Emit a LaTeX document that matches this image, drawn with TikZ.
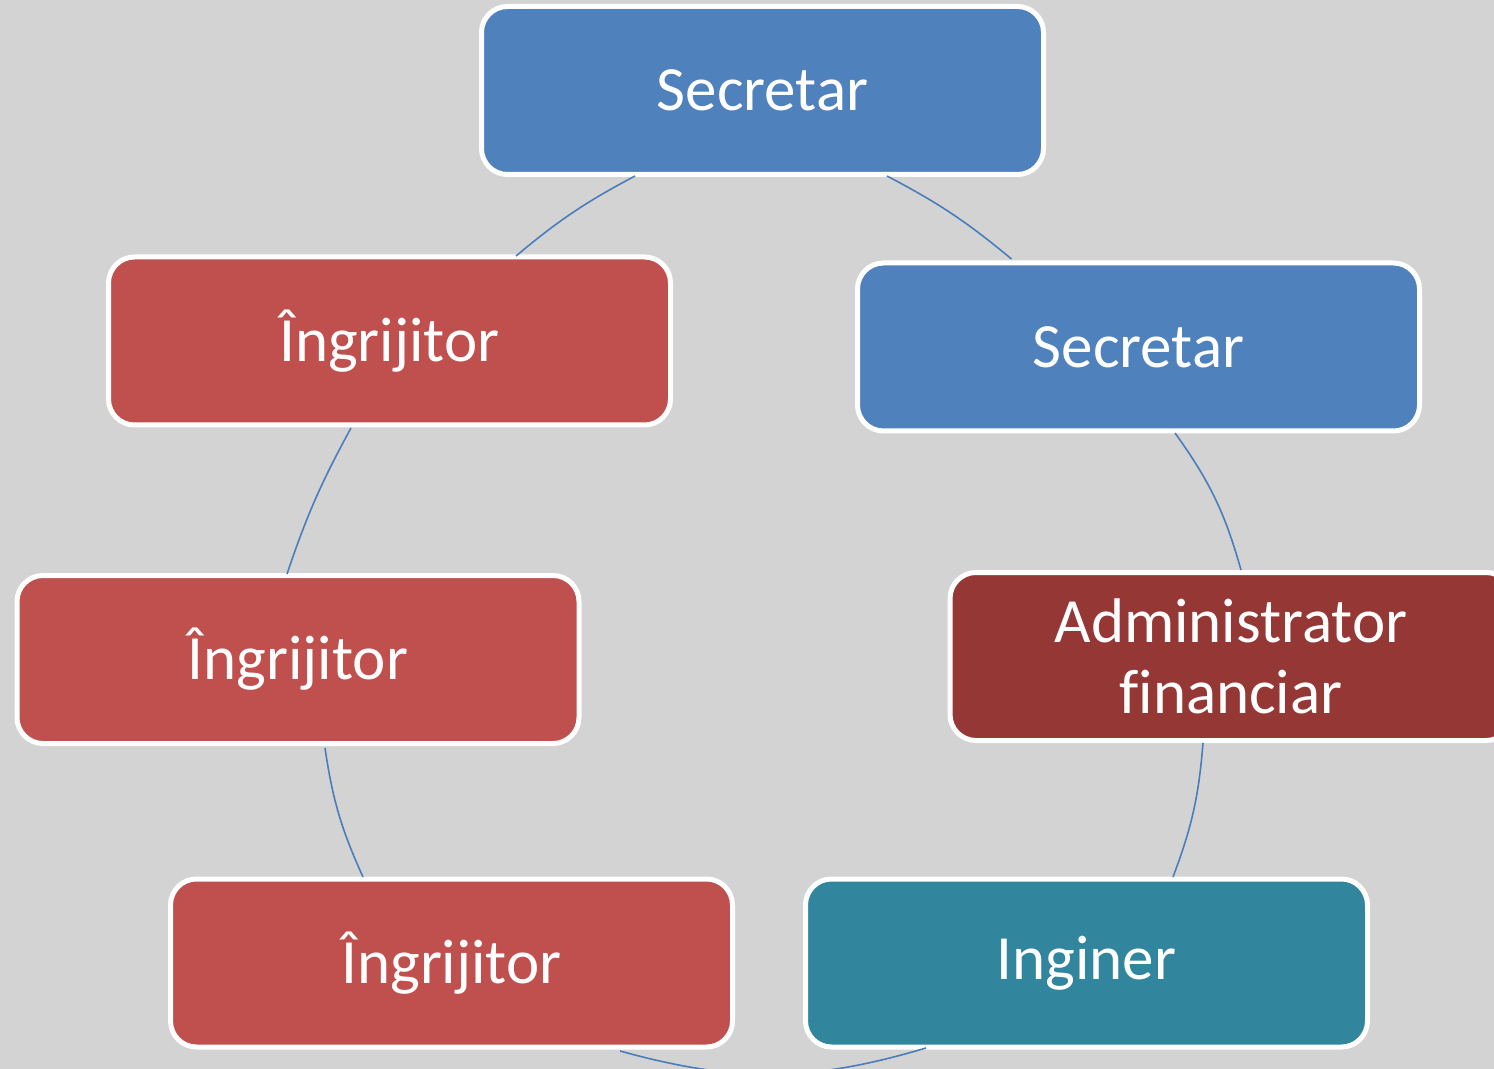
\documentclass[tikz,border=0pt]{standalone}
\usepackage{fontspec}
\setmainfont{Carlito}[Ligatures=NoCommon]
\usetikzlibrary{calc}
\definecolor{bgc}{RGB}{211,211,211}
\definecolor{blueb}{RGB}{79,129,189}
\definecolor{redb}{RGB}{192,80,77}
\definecolor{darkredb}{RGB}{149,55,53}
\definecolor{tealb}{RGB}{49,133,156}
\definecolor{linkc}{RGB}{74,126,187}
\begin{document}
\begin{tikzpicture}[x=0.5pt,y=-0.5pt,
  box/.style={rounded corners=13pt, draw=white, line width=2.5pt,
    minimum width=281pt, minimum height=84pt, inner sep=0pt,
    text=white, font=\fontsize{31.5}{35.5}\selectfont, align=center},
  link/.style={draw=linkc, line width=0.8pt}]
\clip (0,0) rectangle (1494,1069);
\fill[bgc] (0,0) rectangle (1494,1069);
\node[box, fill=blueb] (top) at (762.5,90.5) {Secretar};
\node[box, fill=blueb] (sec2) at (1138.5,347) {Secretar};
\node[box, fill=darkredb] (admin) at (1231,656.5) {Administrator\\financiar};
\node[box, fill=tealb] (ing) at (1086.5,963) {Inginer};
\node[box, fill=redb] (ingr3) at (451.5,963) {Îngrijitor};
\node[box, fill=redb] (ingr2) at (298,659.5) {Îngrijitor};
\node[box, fill=redb] (ingr1) at (389.5,341) {Îngrijitor};
\draw[link] ($(top)+(-127.5,85.5)$) to[bend right=6] ($(ingr1)+(126.5,-85)$);
\draw[link] ($(top)+(124.5,85.5)$) to[bend left=6] ($(sec2)+(-127,-88)$);
\draw[link] ($(sec2)+(36.5,86)$) to[bend left=10] ($(admin)+(10,-86.5)$);
\draw[link] ($(admin)+(-28,86.5)$) to[bend left=8] ($(ing)+(86.5,-86)$);
\draw[link] ($(ing)+(-160.5,85)$) to[bend left=16] ($(ingr3)+(168.5,88)$);
\draw[link] ($(ingr3)+(-88.5,-86)$) to[bend left=8] ($(ingr2)+(27,88.5)$);
\draw[link] ($(ingr2)+(-11,-85.5)$) to[bend left=5] ($(ingr1)+(-38.5,87)$);
\end{tikzpicture}
\end{document}
